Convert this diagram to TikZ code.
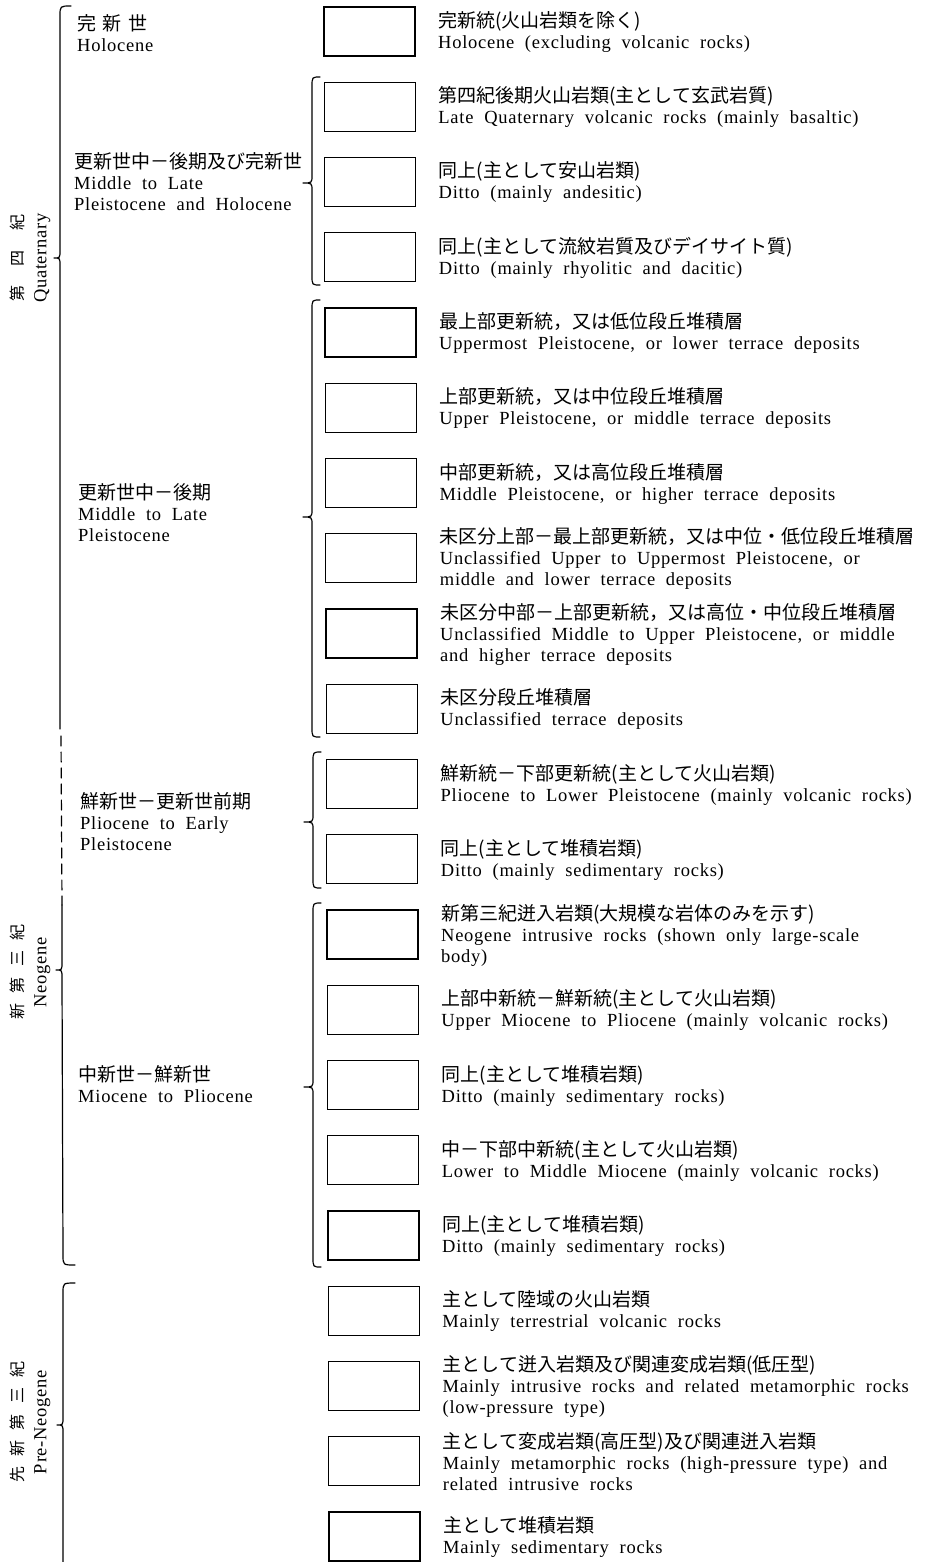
\documentclass[tikz,border=0pt]{standalone}
\usepackage{fontspec}
\setmainfont{Liberation Serif}[WordSpace=2,LetterSpace=4]
\newfontfamily\jpfont{Noto Sans CJK JP}
\newcommand\jp[1]{{\jpfont\fontsize{19}{21}\selectfont #1}}
\newcommand\jv[1]{{\jpfont\fontsize{16}{23}\selectfont #1}}
\newcommand\jsp{\hspace{0.35em}}
\tikzset{
  unitbox/.style={draw,line width=1.3pt,minimum width=91pt,minimum height=49pt,inner sep=0pt,outer sep=0pt},
  desc/.style={anchor=west,align=left,inner sep=0pt,font=\fontsize{18.5}{21}\selectfont},
  period/.style={rotate=90,align=center,inner sep=0pt,font=\fontsize{18.5}{23}\selectfont},
  brc/.style={line width=1.2pt,line join=round,line cap=round},
}
\newcommand\legitem[2]{%
  \pgfmathsetmacro\yt{7+75.25*(#1-1)}%
  \pgfmathsetmacro\xl{324+5*(#1-1)/20}%
  \node[unitbox] (b#1) at ({\xl+45.5},{\yt+24.5}) {};
  \node[desc] (t#1) at ({\xl+114},{\yt+25}) {#2};
}
\newcommand\vbrace[6]{% xl, top, tip, bottom, xr, xt
  \draw[brc] (#5,#2) .. controls (#1,#2) .. (#1,{#2+10}) -- (#1,{#3-8})
    .. controls (#1,#3) .. (#6,#3) .. controls (#1,#3) .. (#1,{#3+8})
    -- (#1,{#4-10}) .. controls (#1,#4) .. (#5,#4);
}
\begin{document}
\begin{tikzpicture}[x=1pt,y=-1pt]
\useasboundingbox (0,0) rectangle (925,1562);
% legend units
\legitem{1}{\jp{完新統(火山岩類を除く)}\\Holocene (excluding volcanic rocks)}
\legitem{2}{\jp{第四紀後期火山岩類(主として玄武岩質)}\\Late Quaternary volcanic rocks (mainly basaltic)}
\legitem{3}{\jp{同上(主として安山岩類)}\\Ditto (mainly andesitic)}
\legitem{4}{\jp{同上(主として流紋岩質及びデイサイト質)}\\Ditto (mainly rhyolitic and dacitic)}
\legitem{5}{\jp{最上部更新統，又は低位段丘堆積層}\\Uppermost Pleistocene, or lower terrace deposits}
\legitem{6}{\jp{上部更新統，又は中位段丘堆積層}\\Upper Pleistocene, or middle terrace deposits}
\legitem{7}{\jp{中部更新統，又は高位段丘堆積層}\\Middle Pleistocene, or higher terrace deposits}
\legitem{8}{\jp{未区分上部－最上部更新統，又は中位・低位段丘堆積層}\\Unclassified Upper to Uppermost Pleistocene, or\\middle and lower terrace deposits}
\legitem{9}{\jp{未区分中部－上部更新統，又は高位・中位段丘堆積層}\\Unclassified Middle to Upper Pleistocene, or middle\\and higher terrace deposits}
\legitem{10}{\jp{未区分段丘堆積層}\\Unclassified terrace deposits}
\legitem{11}{\jp{鮮新統－下部更新統(主として火山岩類)}\\Pliocene to Lower Pleistocene (mainly volcanic rocks)}
\legitem{12}{\jp{同上(主として堆積岩類)}\\Ditto (mainly sedimentary rocks)}
\legitem{13}{\jp{新第三紀迸入岩類(大規模な岩体のみを示す)}\\Neogene intrusive rocks (shown only large-scale\\body)}
\legitem{14}{\jp{上部中新統－鮮新統(主として火山岩類)}\\Upper Miocene to Pliocene (mainly volcanic rocks)}
\legitem{15}{\jp{同上(主として堆積岩類)}\\Ditto (mainly sedimentary rocks)}
\legitem{16}{\jp{中－下部中新統(主として火山岩類)}\\Lower to Middle Miocene (mainly volcanic rocks)}
\legitem{17}{\jp{同上(主として堆積岩類)}\\Ditto (mainly sedimentary rocks)}
\legitem{18}{\jp{主として陸域の火山岩類}\\Mainly terrestrial volcanic rocks}
\legitem{19}{\jp{主として迸入岩類及び関連変成岩類(低圧型)}\\Mainly intrusive rocks and related metamorphic rocks\\(low-pressure type)}
\legitem{20}{\jp{主として変成岩類(高圧型)及び関連迸入岩類}\\Mainly metamorphic rocks (high-pressure type) and\\related intrusive rocks}
\legitem{21}{\jp{主として堆積岩類}\\Mainly sedimentary rocks}
% epoch braces
\vbrace{312}{77}{183}{285}{320}{303}
\vbrace{312}{300}{517}{737}{320}{303}
\vbrace{313}{752}{822}{888}{321}{304}
\vbrace{313}{903}{1087}{1267}{321}{304}
% epoch labels
\node[desc] (holo) at (77,33) {\jp{完\jsp 新\jsp 世}\\Holocene};
\node[desc] (mlph) at (74,182) {\jp{更新世中－後期及び完新世}\\Middle to Late\\Pleistocene and Holocene};
\node[desc] (mlp) at (78,513) {\jp{更新世中－後期}\\Middle to Late\\Pleistocene};
\node[desc] (plep) at (80,822) {\jp{鮮新世－更新世前期}\\Pliocene to Early\\Pleistocene};
\node[desc] (mip) at (78,1084) {\jp{中新世－鮮新世}\\Miocene to Pliocene};
% period braces
\draw[brc] (71,6) .. controls (60,6) .. (60,16) -- (60,250)
  .. controls (60,258) .. (54,258) .. controls (60,258) .. (60,266) -- (60,729);
\draw[brc,dash pattern=on 10pt off 6pt] (61,736) -- (62,905);
\draw[brc] (62,905) -- (62,962) .. controls (62,970) .. (56,970)
  .. controls (62,970) .. (62,978) -- (63,1255) .. controls (63,1265) .. (75,1265);
\draw[brc] (75,1283) .. controls (63,1283) .. (63,1293) -- (63,1417)
  .. controls (63,1425) .. (57,1425) .. controls (63,1425) .. (63,1433) -- (63,1562);
% period labels
\node[period] (quat) at (30,258) {\jv{第\hspace{1.2em}四\hspace{1.2em}紀}\\Quaternary};
\node[period] (neog) at (30,972) {\jv{新\hspace{0.65em}第\hspace{0.65em}三\hspace{0.65em}紀}\\Neogene};
\node[period] (preneog) at (30,1422) {\jv{先\hspace{0.63em}新\hspace{0.63em}第\hspace{0.63em}三\hspace{0.63em}紀}\\Pre-Neogene};
\end{tikzpicture}
\end{document}
